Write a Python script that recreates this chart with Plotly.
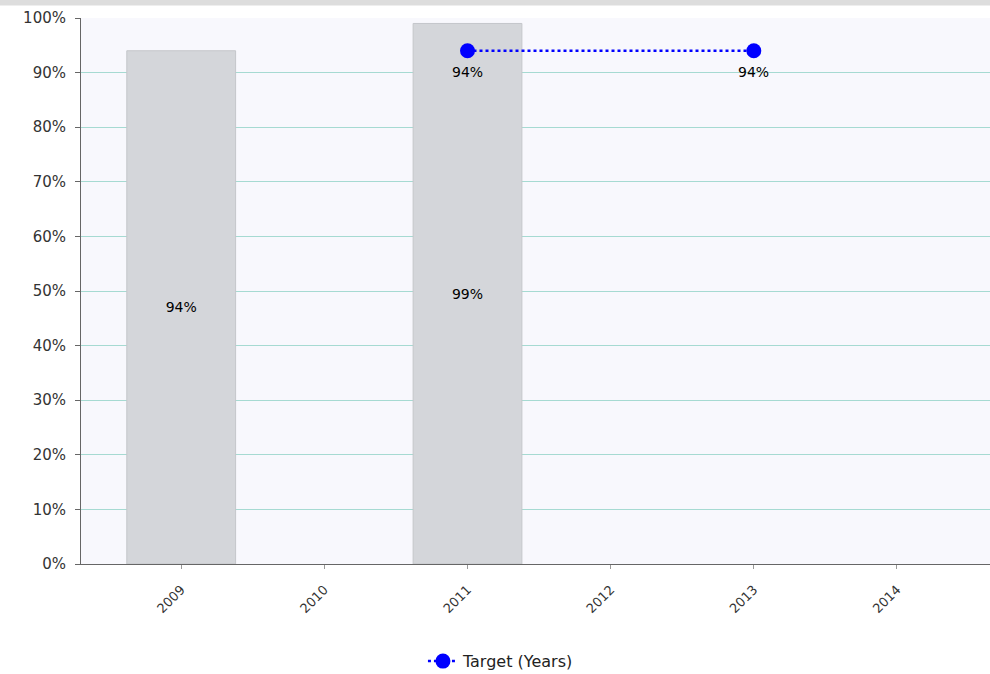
import plotly.graph_objects as go

years = ["2009", "2010", "2011", "2012", "2013", "2014"]
actual_years = ["2009", "2011"]
actual_values = [0.94, 0.99]
actual_labels = ["94%", "99%"]
target_years = ["2011", "2013"]
target_values = [0.94, 0.94]
target_labels = ["94%", "94%"]
y_ticks = [0, 0.1, 0.2, 0.3, 0.4, 0.5, 0.6, 0.7, 0.8, 0.9, 1.0]
y_tick_labels = ["0%", "10%", "20%", "30%", "40%", "50%", "60%", "70%", "80%", "90%", "100%"]

FONT = "Tahoma, Verdana, DejaVu Sans, sans-serif"

fig = go.Figure()
fig.add_trace(go.Bar(
    x=actual_years, y=actual_values, text=actual_labels,
    textposition="inside", insidetextanchor="middle",
    textfont=dict(color="#000000", size=14, family=FONT),
    marker=dict(color="#d4d6da", line=dict(color="#c4c6ca", width=1)),
    width=0.76, showlegend=False, hoverinfo="skip", name="Actual",
))
fig.add_trace(go.Scatter(
    x=target_years, y=target_values,
    mode="lines+markers",
    line=dict(color="#0000ff", width=2.5, dash="dot"),
    marker=dict(color="#0000ff", size=15),
    name="Target (Years)",
))

# category axes: annotations take the category's serial number
annotations = [
    dict(x=years.index(xv), y=yv, text=t, showarrow=False, xref="x", yref="y", yshift=-21,
         font=dict(color="#000000", size=14, family=FONT))
    for xv, yv, t in zip(target_years, target_values, target_labels)
]

fig.update_layout(
    width=990, height=674,
    margin=dict(l=81, r=0, t=18, b=110),
    paper_bgcolor="#ffffff", plot_bgcolor="#f8f8fd",
    font=dict(family=FONT, color="#333333", size=13),
    bargap=0.2,
    legend=dict(orientation="h", xref="container", yref="container",
                x=0.506, xanchor="center", y=0.019, yanchor="middle",
                font=dict(size=16, color="#222222"), bgcolor="rgba(0,0,0,0)"),
    xaxis=dict(type="category", categoryorder="array", categoryarray=years,
               range=[-0.7, 5.65], tickangle=-45, showgrid=False,
               showline=True, linecolor="#666666", linewidth=1,
               ticks="outside", ticklen=4, tickcolor="#999999",
               ticklabelstandoff=8,
               tickfont=dict(size=13, color="#333333")),
    yaxis=dict(range=[0, 1.0], tickvals=y_ticks, ticktext=y_tick_labels,
               showgrid=True, gridcolor="#a6dad2", gridwidth=1,
               showline=True, linecolor="#666666", linewidth=1,
               ticks="outside", ticklen=5, tickcolor="#666666",
               ticklabelstandoff=6,
               tickfont=dict(size=15, color="#333333"), zeroline=False),
    annotations=annotations,
    shapes=[dict(type="rect", xref="paper", yref="paper",
                 x0=-82/909, x1=1.01, y0=1 + 12.5/546, y1=1 + 18.5/546,
                 fillcolor="#dddddd", line=dict(width=0), layer="above")],
)

fig.write_html("out.html", config={"displayModeBar": False},
               post_script="document.documentElement.style.overflow='hidden';"
                           "document.body.style.margin='0';document.body.style.overflow='hidden';")
